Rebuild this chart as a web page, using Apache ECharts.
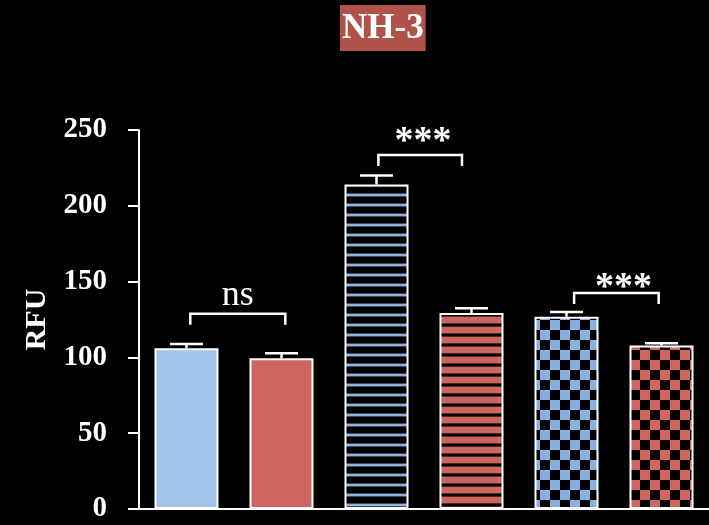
<!DOCTYPE html>
<html>
<head>
<meta charset="utf-8">
<script src="https://cdn.jsdelivr.net/npm/echarts@6/dist/echarts.min.js"></script>
<style>
  html, body { margin: 0; padding: 0; background: #000; }
  #chart { width: 709px; height: 525px; }
</style>
</head>
<body>
<div id="chart"></div>
<script>
  // data
  const groups = ['G1', 'G2', 'G3', 'G4', 'G5', 'G6'];
  const means = [106, 99.5, 214, 129.3, 126.8, 107.8];
  const errors = [2.8, 3.2, 6, 3.1, 3.2, 1.6];
  const yTicks = [0, 50, 100, 150, 200, 250];

  // brackets: [from, to, height], label and where the label sits
  const bracketFrom = [0.04, 2.02, 4.08];
  const bracketTo = [1.04, 2.9, 4.97];
  const bracketY = [128.8, 233.5, 142.5];
  const bracketText = ['ns', '***', '***'];
  const bracketTextX = [0.54, 2.49, 4.6];
  const bracketTextY = [141, 242, 145.5];

  const FONT = '"Liberation Serif", "Times New Roman", serif';

  // small canvas patterns for the hatched bars
  const makePattern = (w, h, draw) => {
    const c = document.createElement('canvas');
    c.width = w;
    c.height = h;
    draw(c.getContext('2d'));
    return { image: c, repeat: 'repeat' };
  };

  const blueStripes = makePattern(10, 10, (ctx) => {
    ctx.fillStyle = '#000';
    ctx.fillRect(0, 0, 10, 10);
    ctx.fillStyle = '#3b4c63';
    ctx.fillRect(0, 3, 10, 1);
    ctx.fillRect(0, 6, 10, 1);
    ctx.fillStyle = '#8fb4de';
    ctx.fillRect(0, 4, 10, 2);
  });

  const redStripes = makePattern(10, 10, (ctx) => {
    ctx.fillStyle = '#cd6660';
    ctx.fillRect(0, 0, 10, 10);
    ctx.fillStyle = '#5a2522';
    ctx.fillRect(0, 3, 10, 1);
    ctx.fillRect(0, 6, 10, 1);
    ctx.fillStyle = '#000';
    ctx.fillRect(0, 4, 10, 2);
  });

  const checker = (color) =>
    makePattern(20, 20, (ctx) => {
      ctx.fillStyle = '#000';
      ctx.fillRect(0, 0, 20, 20);
      ctx.fillStyle = color;
      ctx.fillRect(10, 0, 10, 10);
      ctx.fillRect(0, 10, 10, 10);
    });

  const fills = ['#a0c4e9', '#cd6660', blueStripes, redStripes, checker('#88afdd'), checker('#d2655f')];

  const chart = echarts.init(document.getElementById('chart'));

  const option = {
    backgroundColor: '#000',
    animation: false,
    title: {
      text: 'NH-3',
      left: 340,
      top: 5,
      backgroundColor: '#b0514a',
      padding: [6, 2, 4, 2],
      textStyle: {
        color: '#fff',
        fontFamily: FONT,
        fontWeight: 'bold',
        fontSize: 35,
        lineHeight: 36,
      },
    },
    grid: { left: 139, right: 0, top: 130, bottom: 16 },
    xAxis: [
      {
        type: 'category',
        data: groups,
        axisLine: { lineStyle: { color: '#fff', width: 2 } },
        axisTick: { show: false },
        axisLabel: { show: false },
      },
      {
        type: 'value',
        min: -0.5,
        max: 5.5,
        show: false,
      },
    ],
    yAxis: {
      type: 'value',
      min: yTicks[0],
      max: yTicks[yTicks.length - 1],
      interval: 50,
      name: 'RFU',
      nameLocation: 'middle',
      nameRotate: 90,
      nameGap: 86,
      nameTextStyle: { color: '#fff', fontFamily: FONT, fontWeight: 'bold', fontSize: 30 },
      axisLine: { show: true, onZero: false, lineStyle: { color: '#fff', width: 2 } },
      axisTick: { show: true, length: 11, lineStyle: { color: '#fff', width: 2 } },
      axisLabel: { color: '#fff', fontFamily: FONT, fontWeight: 'bold', fontSize: 29, margin: 32 },
      splitLine: { show: false },
    },
    series: [
      {
        type: 'bar',
        barWidth: 64,
        data: means.map((v, i) => ({
          value: v,
          itemStyle: { color: fills[i], borderColor: '#fff', borderWidth: 2 },
        })),
        z: 2,
      },
      {
        // error bars, upper half only
        type: 'custom',
        data: means.map((v, i) => [i, v, errors[i]]),
        renderItem: (params, api) => {
          const base = api.coord([api.value(0), api.value(1)]);
          const top = api.coord([api.value(0), api.value(1) + api.value(2)]);
          const style = { stroke: '#fff', lineWidth: 2.5 };
          return {
            type: 'group',
            children: [
              { type: 'line', shape: { x1: base[0], y1: base[1], x2: top[0], y2: top[1] }, style },
              { type: 'line', shape: { x1: top[0] - 16.5, y1: top[1], x2: top[0] + 16.5, y2: top[1] }, style },
            ],
          };
        },
        z: 3,
      },
      {
        // significance brackets
        type: 'custom',
        xAxisIndex: 1,
        data: bracketFrom.map((f, i) => [f, bracketTo[i], bracketY[i], bracketTextX[i], bracketTextY[i]]),
        renderItem: (params, api) => {
          const a = api.coord([api.value(0), api.value(2)]);
          const b = api.coord([api.value(1), api.value(2)]);
          const t = api.coord([api.value(3), api.value(4)]);
          const label = bracketText[params.dataIndex];
          const isStars = label !== 'ns';
          return {
            type: 'group',
            children: [
              {
                type: 'polyline',
                shape: { points: [[a[0], a[1] + 11], a, b, [b[0], b[1] + 11]] },
                style: { stroke: '#fff', lineWidth: 2.5, fill: null },
              },
              {
                type: 'text',
                x: t[0],
                y: t[1],
                style: {
                  text: label,
                  fill: '#fff',
                  align: 'center',
                  verticalAlign: 'middle',
                  fontFamily: FONT,
                  fontSize: isStars ? 38 : 36,
                  fontWeight: isStars ? 'bold' : 'normal',
                },
              },
            ],
          };
        },
        z: 4,
      },
    ],
  };

  chart.setOption(option);
</script>
</body>
</html>
